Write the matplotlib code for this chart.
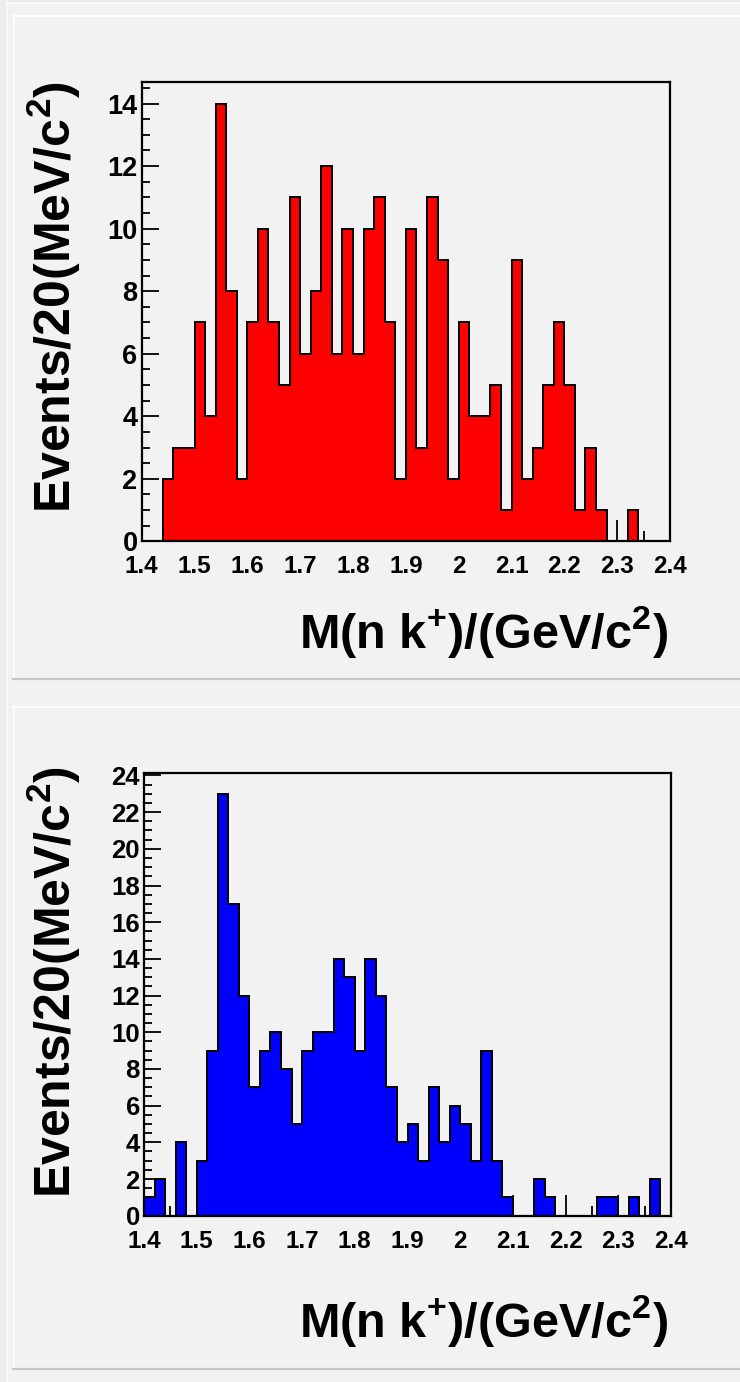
import numpy as np
import matplotlib
matplotlib.use("Agg")
import matplotlib.pyplot as plt
from matplotlib.patches import Rectangle
from matplotlib.lines import Line2D
from matplotlib.ticker import MultipleLocator

# ---------------- data ----------------
bin_edges = np.round(np.arange(1.40, 2.4001, 0.02), 2)

top_counts = [0, 0, 2, 3, 3, 7, 4, 14, 8, 2,
              7, 10, 7, 5, 11, 6, 8, 12, 6, 10,
              6, 10, 11, 7, 2, 10, 3, 11, 9, 2,
              7, 4, 4, 5, 1, 9, 2, 3, 5, 7,
              5, 1, 3, 1, 0, 0, 1, 0, 0, 0]

bottom_counts = [1, 2, 0, 4, 0, 3, 9, 23, 17, 12,
                 7, 9, 10, 8, 5, 9, 10, 10, 14, 13,
                 9, 14, 12, 7, 4, 5, 3, 7, 4, 6,
                 5, 3, 9, 3, 1, 0, 0, 2, 1, 0,
                 0, 0, 0, 1, 1, 0, 1, 0, 2, 0]

x_ticks = [1.4, 1.5, 1.6, 1.7, 1.8, 1.9, 2.0, 2.1, 2.2, 2.3, 2.4]
y_title = r"Events/20(MeV/c$^{2}$)"
x_title = r"M(n k$^{+}$)/(GeV/c$^{2}$)"

# ---------------- style ----------------
plt.rcParams['font.family'] = ['Liberation Sans', 'DejaVu Sans']
plt.rcParams['font.weight'] = 'bold'
plt.rcParams['mathtext.fontset'] = 'custom'
plt.rcParams['mathtext.rm'] = 'Liberation Sans:bold'
plt.rcParams['mathtext.it'] = 'Liberation Sans:bold'
plt.rcParams['mathtext.bf'] = 'Liberation Sans:bold'
plt.rcParams['mathtext.default'] = 'rm'

W, H = 740, 1382
fig = plt.figure(figsize=(W / 100, H / 100), dpi=100)
fig.patch.set_facecolor('#ececec')

def px_rect(x0, y0, x1, y1, **kw):
    return Rectangle((x0 / W, 1 - y1 / H), (x1 - x0) / W, (y1 - y0) / H,
                     transform=fig.transFigure, **kw)

def px_line(x0, y0, x1, y1, **kw):
    return Line2D([x0 / W, x1 / W], [1 - y0 / H, 1 - y1 / H],
                  transform=fig.transFigure, **kw)

# canvas
fig.add_artist(px_rect(6, 2, W + 5, H + 5, facecolor='#f2f2f2',
                       edgecolor='none', zorder=-20))
fig.add_artist(px_line(6, 2.5, W, 2.5, color='#fbfbfb', lw=1.2, zorder=-19))
fig.add_artist(px_line(6.5, 2, 6.5, H, color='#fbfbfb', lw=1.2, zorder=-19))

# pads
for (y0, y1) in [(15, 679), (706, 1369)]:
    fig.add_artist(px_rect(13, y0, W + 5, y1, facecolor='#f2f2f2',
                           edgecolor='none', zorder=-15))
    fig.add_artist(px_line(13, y0 + 0.5, W, y0 + 0.5, color='#fcfcfc', lw=1.5, zorder=-14))
    fig.add_artist(px_line(13.5, y0, 13.5, y1, color='#fcfcfc', lw=1.5, zorder=-14))
    fig.add_artist(px_line(13, y1, W, y1, color='#c6c6c6', lw=1.6, zorder=-14))

def make_axes(x0, y0, x1, y1):
    return fig.add_axes([x0 / W, 1 - y1 / H, (x1 - x0) / W, (y1 - y0) / H])

panels = [
    dict(box=(141.7, 81.7, 670, 541.3), counts=top_counts, color='#ff0000',
         ymax=14.7, yt_x=54, yt_y=297, xt_y=648, ylab=19.5),
    dict(box=(144, 772.7, 671, 1215.7), counts=bottom_counts, color='#0000ff',
         ymax=24.15, yt_x=54, yt_y=982, xt_y=1337, ylab=18.5),
]

for p in panels:
    ax = make_axes(*p['box'])
    ax.set_zorder(5)
    ax.set_facecolor('#f2f2f2')
    ax.stairs(p['counts'], bin_edges, fill=True, facecolor=p['color'],
              edgecolor='none', zorder=2)
    ax.stairs(p['counts'], bin_edges, fill=False, edgecolor='black',
              linewidth=1.4, zorder=3)
    ax.set_xlim(1.4, 2.4)
    ax.set_ylim(0, p['ymax'])
    ax.xaxis.set_minor_locator(MultipleLocator(0.05))
    ax.yaxis.set_major_locator(MultipleLocator(2))
    ax.yaxis.set_minor_locator(MultipleLocator(0.5))
    ax.set_xticks(x_ticks)
    ax.set_xticklabels(['%g' % t for t in x_ticks])
    ax.tick_params(axis='both', which='both', direction='in', top=False,
                   right=False, color='black')
    ax.tick_params(axis='x', which='major', length=15, width=1.3,
                   labelsize=17.5, pad=10)
    ax.tick_params(axis='x', which='minor', length=7, width=1.3)
    ax.tick_params(axis='y', which='major', length=12, width=1.3,
                   labelsize=p['ylab'], pad=3)
    ax.tick_params(axis='y', which='minor', length=6, width=1.3)
    for lab in ax.get_xticklabels() + ax.get_yticklabels():
        lab.set_fontweight('bold')
    for s in ax.spines.values():
        s.set_linewidth(1.6)
        s.set_color('black')
        s.set_zorder(5)

    fig.text(p['yt_x'] / W, 1 - p['yt_y'] / H, y_title, rotation=90,
             ha='center', va='center', fontsize=36, fontweight='bold')
    fig.text(668 / W, 1 - p['xt_y'] / H, x_title, ha='right',
             va='baseline', fontsize=35, fontweight='bold')

fig.savefig('out.png', dpi=100, facecolor=fig.get_facecolor())
